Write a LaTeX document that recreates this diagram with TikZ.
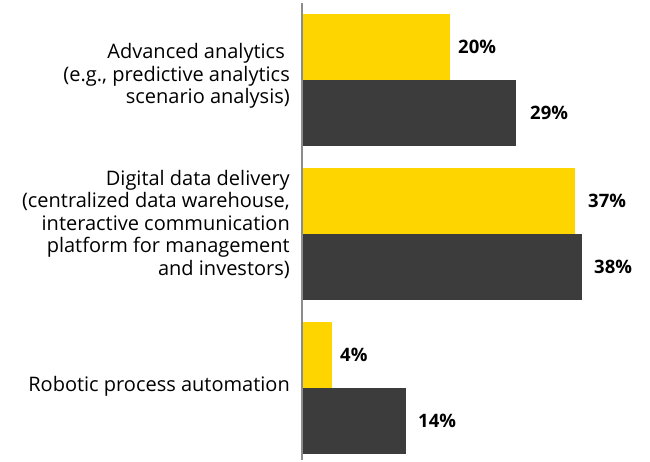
\documentclass[tikz,border=0pt]{standalone}
\usepackage{fontspec}
\setmainfont{Open Sans}
\usetikzlibrary{positioning}
\definecolor{eyyellow}{HTML}{FFD500}
\definecolor{eydark}{HTML}{3C3C3C}
\definecolor{axisgrey}{HTML}{8C8C8C}

\begin{document}
\begin{tikzpicture}[
    x=1pt, y=-1pt,
    bar/.style={inner sep=0pt, outer sep=0pt, minimum height=66pt, anchor=north west},
    pct/.style={font=\fontsize{18.5}{20}\selectfont\bfseries, inner sep=0pt},
    cat/.style={font=\fontsize{20}{22.5}\selectfont, align=right, anchor=east, inner sep=0pt},
    axis line/.style={draw=axisgrey, line width=1.2pt},
    ]
    \useasboundingbox (0,0) rectangle (650,461);

    % axis
    \coordinate (top) at (302,3);
    \coordinate (bottom) at (302,460);

    % bars: name/top/yellow end/dark end/yellow value/dark value/gaps
    \foreach \g/\t/\ya/\db/\yv/\dv/\ygap/\dgap in {
        a/14/450/516/20/29/8/14,
        b/168/575/582/37/38/13/12,
        c/322/332/406/4/14/8/12}{
        \node[bar, fill=eyyellow, minimum width={(\ya-302)*1pt}] (\g y) at (302,\t) {};
        \node[bar, fill=eydark, minimum width={(\db-302)*1pt}] (\g d) at (302,\t+66) {};
        \node[pct, right=\ygap pt of \g y] (\g yl) {\yv\%};
        \node[pct, right=\dgap pt of \g d] (\g dl) {\dv\%};
    }

    % category labels
    \node[cat] (alabel) at (290,76) {Advanced analytics\hspace*{5pt}\\(e.g., predictive analytics\\scenario analysis)};
    \node[cat] (blabel) at (290,224) {Digital data delivery\\(centralized data warehouse,\\interactive communication\\platform for management\\and investors)};
    \node[cat] (clabel) at (290,386) {Robotic process automation};

    \draw[axis line] (top) -- (bottom);
\end{tikzpicture}
\end{document}
